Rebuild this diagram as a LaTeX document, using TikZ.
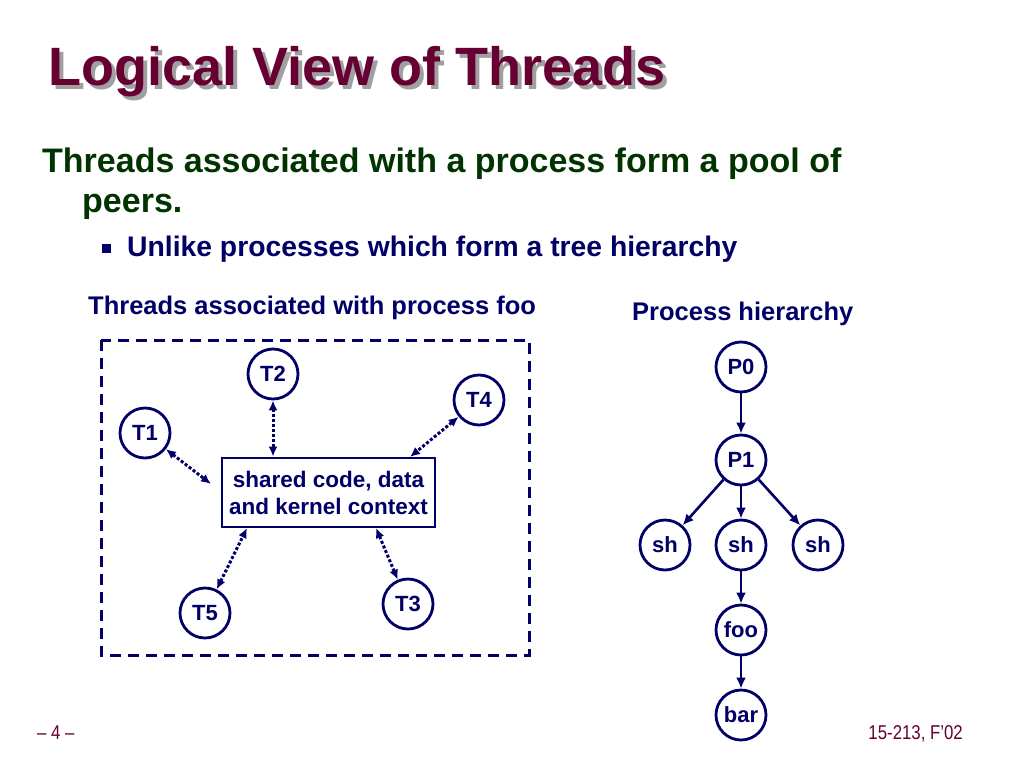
\documentclass[tikz,border=0pt]{standalone}
\usepackage{fontspec}
\setmainfont{Liberation Sans}
\newfontfamily\narrowfont[FakeStretch=0.84]{Liberation Sans}
\usetikzlibrary{arrows.meta}
\definecolor{navy}{HTML}{000066}
\definecolor{maroon}{HTML}{660033}
\definecolor{dgreen}{HTML}{003300}
\definecolor{shadow}{HTML}{A0A0A0}
\begin{document}
\begin{tikzpicture}[x=1pt,y=-1pt,
  circ/.style={circle,draw=navy,line width=2.8pt,minimum size=50pt,inner sep=0pt,text=navy,font=\fontsize{22}{24}\selectfont\bfseries},
  link/.style={navy,line width=3pt,dotted,{Latex[length=10pt,width=9pt]}-{Latex[length=10pt,width=9pt]}},
  tree/.style={navy,line width=2.6pt,-{Latex[length=11pt,width=10pt]}},
  lbl/.style={text=navy,font=\fontsize{25.5}{28}\selectfont\bfseries,anchor=west,inner sep=0pt}]
\useasboundingbox (0,0) rectangle (1024,768);
% title
\node[anchor=base west,inner sep=0pt,text=shadow,font=\fontsize{54}{58}\selectfont\bfseries] (titlesh) at (52,89) {Logical View of Threads};
\node[anchor=base west,inner sep=0pt,text=maroon,font=\fontsize{54}{58}\selectfont\bfseries] (title) at (48,85) {Logical View of Threads};
% bullets
\node[anchor=base west,inner sep=0pt,text=dgreen,font=\fontsize{34}{38}\selectfont\bfseries] (b1) at (42,172) {Threads associated with a process form a pool of};
\node[anchor=base west,inner sep=0pt,text=dgreen,font=\fontsize{34}{38}\selectfont\bfseries] (b1b) at (82,212) {peers.};
\node[fill=navy,minimum size=9pt,inner sep=0pt] (sq) at (106,248) {};
\node[anchor=base west,inner sep=0pt,text=navy,font=\fontsize{28.3}{32}\selectfont\bfseries] (b2) at (127,256) {Unlike processes which form a tree hierarchy};
% captions
\node[lbl] (cap1) at (88,308) {Threads associated with process foo};
\node[lbl] (cap2) at (632,314) {Process hierarchy};
% dashed frame
\draw[navy,line width=3pt,dash pattern=on 11pt off 7pt] (101,340) rectangle (529,655);
% threads
\node[circ] (T2) at (273,374) {T2};
\node[circ] (T4) at (479,400) {T4};
\node[circ] (T1) at (145,433) {T1};
\node[circ] (T5) at (205,613) {T5};
\node[circ] (T3) at (408,604) {T3};
\node[draw=navy,line width=2.8pt,minimum width=213pt,minimum height=69pt,align=center,text=navy,font=\fontsize{22.5}{27}\selectfont\bfseries,inner sep=2pt] (box) at (328.5,492.5) {shared code, data\\and kernel context};
\draw[link] (T1) -- (211,484);
\draw[link] (T2) -- (box.north -| T2);
\draw[link] (T4) -- (410,457);
\draw[link] (T5) -- (247,528);
\draw[link] (T3) -- (376,528);
% process tree
\node[circ] (P0) at (741,367) {P0};
\node[circ] (P1) at (741,460) {P1};
\node[circ] (sh1) at (665,545) {sh};
\node[circ] (sh2) at (741,545) {sh};
\node[circ] (sh3) at (818,545) {sh};
\node[circ] (foo) at (741,630) {foo};
\node[circ] (bar) at (741,715) {bar};
\draw[tree] (P0) -- (P1);
\draw[tree] (P1) -- (sh1);
\draw[tree] (P1) -- (sh2);
\draw[tree] (P1) -- (sh3);
\draw[tree] (sh2) -- (foo);
\draw[tree] (foo) -- (bar);
% footer
\node[anchor=base west,inner sep=0pt,text=maroon,font=\narrowfont\fontsize{20}{22}\selectfont] (pg) at (37,739) {– 4 –};
\node[anchor=base east,inner sep=0pt,text=maroon,font=\narrowfont\fontsize{20}{22}\selectfont] (crs) at (963,739) {15-213, F’02};
\end{tikzpicture}
\end{document}
